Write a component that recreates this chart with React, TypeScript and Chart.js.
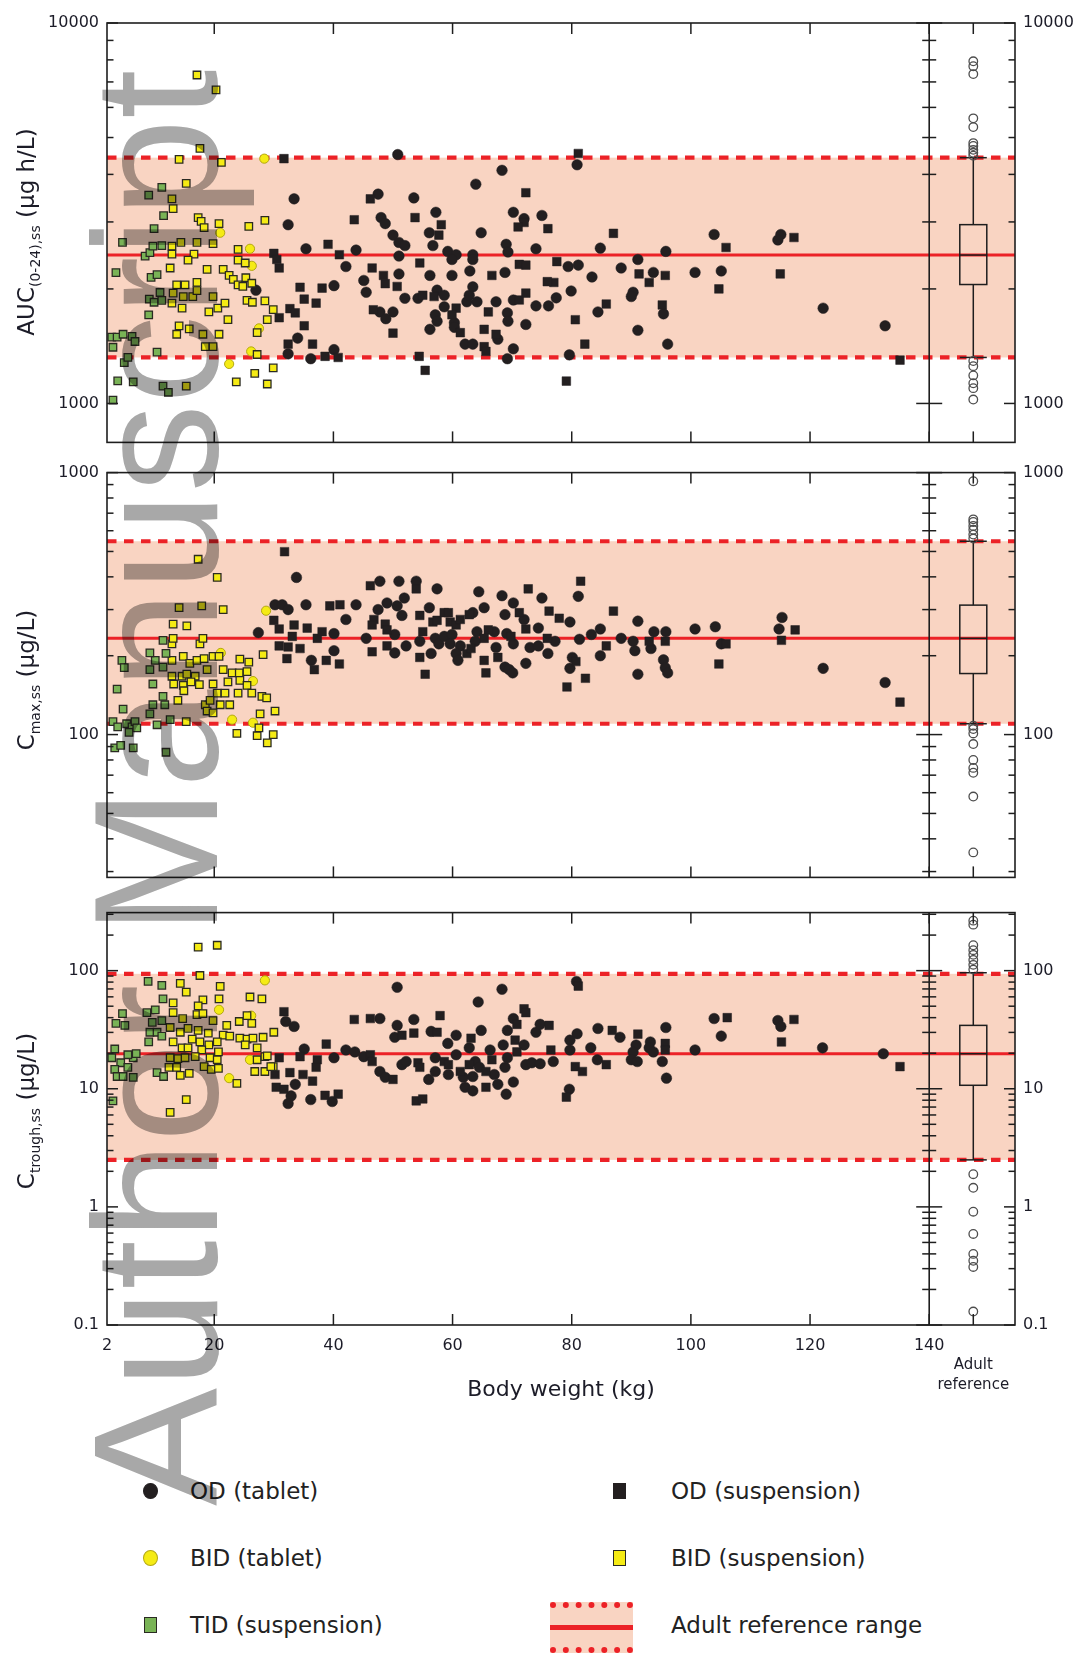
import React, { useEffect, useRef } from 'react';
import { Chart, registerables } from 'chart.js';

Chart.register(...registerables);

type Pt = [number, number];

// ---------- axes ----------
const X_MIN = 2;
const X_MAX = 154.4;
const X_DIVIDER = 140;
const BOX_X = 147.4;
const X_TICK_LABELS = [2, 20, 40, 60, 80, 100, 120, 140];
const X_MARKS = [20, 40, 60, 80, 100, 120, 140, BOX_X];
const X_TITLE = 'Body weight (kg)';
const BOX_LABEL = ['', 'Adult', 'reference'];

const AUC_RANGE = [790, 10000];
const AUC_TICKS = [1000, 2000, 3000, 4000, 5000, 6000, 7000, 8000, 9000, 10000];
const AUC_LABELS = [1000, 10000];
const CMAX_RANGE = [28.5, 1000];
const CMAX_TICKS = [30, 40, 50, 60, 70, 80, 90, 100, 200, 300, 400, 500, 600, 700, 800, 900, 1000];
const CMAX_LABELS = [100, 1000];
const CTR_RANGE = [0.1, 310];
const CTR_TICKS = [0.1, 0.2, 0.3, 0.4, 0.5, 0.6, 0.7, 0.8, 0.9, 1, 2, 3, 4, 5, 6, 7, 8, 9, 10, 20, 30, 40, 50, 60, 70, 80, 90, 100, 200, 300];
const CTR_LABELS = [0.1, 1, 10, 100];

// ---------- adult reference: [lower, median, upper] ----------
const AUC_REF = [1321, 2455, 4426];
const CMAX_REF = [110, 233, 547];
const CTR_REF = [2.5, 19.8, 94];

// ---------- adult box plots: [whiskerLo, q1, median, q3, whiskerHi] ----------
const AUC_BOX = [1321, 2054, 2455, 2951, 4426];
const CMAX_BOX = [110, 171, 233, 312, 547];
const CTR_BOX = [2.5, 10.7, 19.8, 34.4, 96];
const AUC_OUT = [7930, 7700, 7340, 5616, 5325, 4834, 4750, 4640, 4560, 4480, 1293, 1253, 1185, 1130, 1097, 1024];
const CMAX_OUT = [927, 663, 648, 626, 605, 580, 560, 108, 105, 101, 92, 80, 74.6, 71.5, 58, 35.5];
const CTR_OUT = [265, 245, 164, 149, 136, 123, 112, 102, 1.89, 1.45, 0.91, 0.59, 0.4, 0.35, 0.31, 0.13];

// ---------- AUC(0-24),ss ----------
const aucTid: Pt[] = [[3.0,1020],[3.8,1146],[6.4,1140],[4.9,1280],[5.5,1321],[3.0,1405],[2.8,1494],[3.7,1494],[4.7,1520],[6.2,1500],[6.7,1455],[10.4,1365],[11.4,1110],[12.3,1070],[3.5,2208],[4.6,2650],[9.0,1710],[8.4,2440],[9.2,2490],[9.7,2590],[11.2,2600],[9.4,2145],[10.4,2180],[9.1,1880],[9.9,1845],[11.2,1866],[10.9,1957],[9.9,2880],[11.5,3115],[9.0,3530],[11.2,3700]];
const aucBidSusp: Pt[] = [[17.1,7300],[20.3,6670],[14.1,4380],[21.2,4300],[15.3,3790],[17.3,3080],[17.8,3010],[18.3,2900],[20.8,2970],[25.8,2920],[28.5,3030],[14.4,2650],[17.1,2650],[19.8,2630],[12.9,2590],[12.9,2470],[16.6,2470],[24.0,2540],[15.6,2380],[24.0,2380],[25.2,2340],[12.6,2270],[18.8,2250],[21.5,2250],[22.5,2170],[23.2,2120],[25.3,2140],[13.7,2050],[15.1,2050],[17.1,2080],[24.0,2050],[24.8,2030],[26.3,2070],[13.1,1950],[14.8,1910],[16.4,1910],[17.1,1980],[12.9,1835],[14.6,1780],[19.8,1910],[19.1,1740],[20.6,1780],[21.8,1835],[25.5,1866],[26.4,1845],[28.5,1860],[29.9,1765],[22.3,1660],[28.9,1660],[14.1,1600],[13.7,1520],[15.8,1570],[20.8,1520],[27.2,1535],[18.1,1520],[18.5,1410],[19.8,1410],[27.2,1345],[26.8,1200],[29.9,1240],[23.7,1140],[28.9,1125],[12.9,3450],[17.6,4680],[15.3,1110],[13.1,3250]];
const aucBidTab: Pt[] = [[28.4,4400],[21.0,2810],[26.0,2550],[26.3,2300],[27.5,1575],[26.2,1370],[22.5,1270]];
const aucOdTab: Pt[] = [[50.8,4510],[80.9,4240],[68.3,4100],[63.9,3770],[33.4,3450],[47.5,3550],[53.5,3470],[32.4,2950],[48.0,3080],[48.7,2970],[57.2,3180],[70.2,3180],[72.0,3060],[75.0,3120],[64.8,2810],[56.1,2810],[50.0,2770],[51.0,2650],[52.0,2600],[56.7,2600],[103.9,2780],[115.1,2780],[114.6,2690],[84.8,2560],[95.8,2510],[74.0,2550],[69.0,2620],[69.3,2500],[35.4,2550],[43.8,2530],[51.0,2440],[59.2,2510],[60.6,2460],[59.9,2390],[63.4,2460],[63.4,2390],[42.1,2290],[51.0,2190],[56.2,2170],[59.9,2170],[62.9,2230],[68.8,2210],[79.4,2290],[81.1,2310],[83.4,2150],[88.3,2270],[91.1,2390],[93.7,2210],[100.7,2210],[105.1,2230],[122.2,1780],[132.6,1600],[40.1,2040],[34.0,1485],[32.4,1350],[36.2,1311],[40.1,1385],[45.1,2105],[45.5,1960],[47.8,1740],[50.0,1740],[48.8,1670],[52.0,1890],[54.2,1890],[56.2,1566],[57.4,1985],[58.6,1925],[57.1,1710],[57.4,1645],[58.6,1795],[60.3,1630],[60.3,1585],[62.1,1432],[62.4,1850],[62.8,1925],[63.4,2025],[64.1,1850],[63.4,1432],[67.3,1850],[67.6,1475],[69.2,1730],[69.3,1645],[70.2,1870],[70.2,1392],[69.2,1311],[72.3,1613],[74.0,1805],[76.1,1805],[77.4,1895],[79.9,1975],[79.6,1342],[84.4,1740],[90.3,1960],[90.0,1910],[91.1,1557],[95.4,1720],[96.1,1432],[27.0,1985]];
const aucOdSusp: Pt[] = [[31.7,4400],[81.1,4540],[72.3,3580],[46.2,3450],[43.5,3040],[53.7,3080],[58.1,2950],[72.0,2990],[76.0,2880],[71.0,2910],[57.7,2770],[87.0,2800],[117.3,2730],[105.9,2570],[39.1,2620],[41.0,2460],[30.0,2480],[30.5,2390],[30.9,2270],[54.5,2340],[46.5,2270],[66.6,2170],[71.2,2320],[72.3,2310],[77.5,2360],[91.3,2190],[95.7,2170],[93.0,2080],[115.0,2190],[104.7,2000],[135.1,1300],[34.4,2020],[38.1,2010],[35.1,1880],[37.1,1835],[32.7,1775],[33.6,1730],[30.9,1680],[35.1,1600],[32.4,1432],[36.5,1432],[38.6,1330],[40.8,1321],[48.7,2065],[50.7,2030],[48.4,2170],[46.7,1763],[50.0,1530],[55.0,1925],[54.4,1330],[55.4,1222],[56.9,1910],[60.6,1780],[59.9,1710],[61.3,1535],[65.3,1566],[65.3,1410],[65.6,1370],[66.0,1740],[67.3,1520],[71.2,1870],[72.3,1950],[77.0,2080],[75.9,2090],[80.6,1660],[82.2,1432],[79.1,1145],[85.8,1825],[95.2,1815]];

// ---------- Cmax,ss ----------
const cmaxTid: Pt[] = [[3.7,149],[4.5,192],[4.9,180],[4.7,125],[3.0,112],[3.8,107],[5.3,110],[6.2,107],[6.7,112],[5.7,102],[7.0,106],[3.3,89],[4.3,91],[6.4,89],[11.9,85.6],[10.4,109],[9.2,120],[9.7,130],[11.4,140],[11.7,130],[9.7,156],[9.2,177],[10.1,192],[9.2,205],[11.4,229],[11.9,204],[11.4,181],[12.6,114]];
const cmaxBidSusp: Pt[] = [[17.3,467],[20.5,398],[14.1,305],[17.9,310],[21.5,300],[13.1,264],[15.4,260],[12.9,222],[17.6,222],[13.1,233],[18.1,233],[12.9,192],[14.8,199],[15.9,187],[17.1,192],[18.3,195],[19.8,199],[20.8,199],[24.3,194],[25.8,189],[28.2,202],[18.8,177],[21.5,177],[23.0,172],[24.2,172],[25.5,174],[12.9,167],[14.6,167],[15.4,170],[16.8,167],[13.2,156],[14.8,154],[16.1,159],[17.5,155],[19.8,156],[22.3,159],[24.3,161],[25.5,154],[14.9,147],[20.5,144],[21.8,144],[24.0,144],[26.3,144],[13.9,135],[18.5,130],[21.0,130],[22.6,130],[28.0,140],[28.8,138],[18.8,123],[19.8,121],[27.7,120],[30.2,123],[15.3,112],[23.8,101],[27.5,106],[27.2,99],[29.9,100],[28.9,93],[19.3,135]];
const cmaxBidTab: Pt[] = [[28.7,297],[21.1,205],[26.5,160],[23.0,114],[26.5,111]];
const cmaxOdTab: Pt[] = [[33.8,398],[27.4,245],[30.2,313],[31.4,313],[32.4,300],[35.4,313],[36.3,192],[40.1,243],[40.1,209],[42.1,275],[43.8,313],[47.8,385],[51.0,385],[53.9,385],[57.4,360],[49.0,318],[47.5,300],[51.5,285],[50.7,310],[51.9,332],[50.3,241],[50.3,205],[45.5,233],[52.2,218],[54.5,227],[56.1,305],[57.1,233],[57.7,222],[56.4,204],[58.6,237],[59.9,241],[59.6,222],[61.3,218],[60.6,204],[60.9,192],[63.4,292],[64.4,351],[65.3,305],[64.1,247],[63.8,227],[67.0,247],[67.3,215],[68.3,339],[68.8,287],[69.1,243],[70.2,222],[68.8,181],[69.5,177],[70.1,172],[70.2,318],[72.0,275],[72.3,187],[73.0,215],[74.4,218],[74.4,255],[75.0,332],[77.2,227],[76.0,204],[79.7,269],[80.1,197],[79.7,179],[81.1,337],[81.3,231],[83.3,241],[84.8,253],[84.8,200],[88.3,233],[90.3,227],[90.6,209],[91.1,271],[91.1,170],[93.3,213],[93.8,247],[95.8,247],[95.4,193],[95.7,180],[96.1,172],[100.7,253],[104.1,258],[105.1,222],[115.3,280],[114.8,253],[122.2,179],[132.6,158]];
const cmaxOdSusp: Pt[] = [[31.8,499],[30.0,273],[30.9,253],[33.4,262],[35.6,255],[33.1,237],[30.9,218],[32.4,216],[34.4,213],[32.2,195],[36.8,177],[37.3,233],[38.1,247],[38.8,192],[39.4,310],[41.1,313],[41.0,186],[46.2,370],[53.9,360],[46.8,275],[46.5,262],[48.7,264],[49.0,251],[49.0,218],[46.5,207],[54.5,285],[55.0,247],[54.5,197],[55.4,170],[56.7,269],[57.4,273],[58.6,292],[59.3,292],[59.6,269],[60.6,262],[61.3,275],[62.4,204],[62.8,287],[63.1,213],[66.0,251],[65.3,233],[65.3,192],[65.6,172],[67.6,197],[69.8,237],[71.2,292],[72.3,253],[72.7,360],[75.9,233],[76.2,296],[77.9,278],[80.7,190],[81.5,385],[79.2,152],[82.3,164],[85.8,218],[87.0,296],[93.0,227],[95.7,227],[105.9,222],[104.7,186],[117.5,251],[115.2,229],[135.1,133]];

// ---------- Ctrough,ss ----------
const ctrTid: Pt[] = [[3.0,7.9],[3.3,21.7],[2.8,18.3],[4.3,16.6],[3.3,14.6],[3.7,12.7],[4.7,12.7],[5.5,15.2],[6.4,18.3],[6.9,19.8],[5.5,19.4],[6.4,12.5],[3.5,35.8],[5.0,34.4],[4.6,43.3],[8.7,44.1],[8.9,81.1],[11.2,75.1],[10.1,46.6],[11.4,57.6],[9.6,36.5],[11.2,37.8],[9.2,30.1],[10.4,30.1],[11.2,27.9],[9.0,24.9],[10.4,13.7],[11.5,12.7]];
const ctrBidSusp: Pt[] = [[17.3,158],[20.5,164],[17.6,91],[14.3,78],[15.3,65.7],[21.0,73.7],[20.8,57.6],[26.0,59.8],[28.0,57.6],[18.1,56.5],[17.3,50.3],[13.1,53.3],[13.1,44.1],[14.7,39.3],[17.1,42.4],[18.1,43.3],[19.8,37.8],[22.1,34.4],[24.2,37.1],[25.5,41.6],[26.3,35.8],[12.6,33.0],[14.3,30.1],[15.6,32.4],[17.3,31.2],[19.0,29.6],[21.5,28.4],[22.6,27.9],[24.3,26.8],[25.5,26.3],[26.5,26.8],[28.2,27.3],[13.1,24.9],[16.3,26.3],[17.6,24.9],[19.1,23.5],[20.5,24.9],[14.6,22.2],[15.6,22.2],[17.9,21.3],[20.7,20.5],[25.2,23.5],[27.2,22.2],[12.6,18.3],[13.9,18.0],[15.1,18.3],[16.8,18.7],[19.3,18.3],[20.5,17.6],[27.2,17.6],[28.5,18.7],[18.3,15.4],[14.3,13.0],[15.8,13.5],[19.5,14.6],[20.7,14.9],[26.8,14.0],[28.5,14.0],[29.9,15.4],[23.8,11.1],[15.3,8.1],[12.6,6.3],[12.4,15.2],[13.7,15.2],[30.0,30.1],[28.9,19.0],[29.5,15.4]];
const ctrBidTab: Pt[] = [[28.5,82.7],[20.8,46.6],[26.2,41.6],[26.0,17.6],[22.5,12.3]];
const ctrOdTab: Pt[] = [[50.7,72.3],[68.3,69.6],[80.8,81],[64.3,54.3],[32.0,37.1],[33.4,33.7],[47.8,39.3],[53.5,38.6],[103.9,39.3],[114.6,37.8],[115.1,33.7],[50.7,34.4],[50.3,27.3],[56.4,30.6],[60.6,28.4],[59.2,24.2],[64.8,31.2],[69.2,31.2],[72.0,23.5],[70.2,39.3],[74.0,30.1],[74.7,35.1],[79.7,25.8],[80.9,29.2],[84.4,32.4],[88.1,27.3],[93.2,24.9],[95.8,33.0],[90.8,23.5],[90.3,20.5],[83.2,22.2],[79.7,21.3],[100.7,21.3],[105.1,27.9],[122.1,22.2],[132.3,19.8],[35.1,21.7],[42.1,21.3],[43.6,20.5],[40.1,18.3],[33.6,10.9],[32.9,8.7],[32.4,7.5],[36.2,8.1],[39.8,7.8],[45.1,18.7],[47.8,14.0],[48.7,12.5],[51.5,16.0],[52.2,17.0],[56.0,12.0],[57.1,18.3],[60.6,19.4],[61.8,12.5],[62.1,10.3],[63.4,9.6],[63.8,17.0],[64.5,15.2],[66.3,21.3],[67.6,10.9],[69.0,9.0],[70.2,11.4],[68.8,15.2],[69.2,18.3],[72.3,16.0],[73.3,16.6],[74.7,16.3],[76.9,17.0],[79.6,9.9],[84.3,17.6],[90.0,17.6],[91.0,17.0],[95.2,17.0],[95.9,12.3],[93.0,22.2],[93.7,20.5],[57.1,14.0],[59.3,13.2],[63.4,12.7],[67.0,13.2],[62.8,22.2],[68.5,23.5]];
const ctrOdSusp: Pt[] = [[81.1,74],[31.7,44.9],[43.5,38.6],[46.2,39.3],[57.9,41.6],[72.0,47.5],[72.3,44.1],[106.1,40.0],[117.3,38.6],[70.8,35.1],[53.5,29.6],[57.4,30.1],[63.1,26.8],[70.5,25.8],[76.2,34.4],[86.8,31.2],[91.1,29.0],[95.7,24.2],[95.7,21.3],[76.5,21.3],[115.2,24.9],[135.1,15.4],[38.8,23.9],[37.3,17.6],[37.1,15.2],[34.4,18.7],[30.9,18.3],[30.2,13.2],[32.7,13.7],[34.9,13.2],[36.5,11.6],[30.4,10.3],[31.7,9.9],[38.6,8.8],[40.8,9.0],[46.2,19.4],[46.5,17.0],[50.0,12.0],[54.2,16.6],[54.5,15.2],[53.9,7.9],[55.0,8.2],[58.6,17.0],[59.3,16.0],[61.3,14.0],[62.8,16.0],[65.6,14.0],[65.6,10.3],[66.6,17.6],[70.8,20.5],[80.6,15.4],[81.8,14.0],[79.1,8.5],[85.8,16.0],[51.5,28.4]];

const LEGEND_LABELS = ['OD (tablet)', 'OD (suspension)', 'BID (tablet)', 'BID (suspension)', 'TID (suspension)', 'Adult reference range'];

// ---------- styles ----------
const FONT = "'DejaVu Sans', 'Liberation Sans', sans-serif";
const TEXT = '#1c1c28';
const BLACK = '#231f20';
const YELLOW = '#f5eb14';
const YELLOW_EDGE = '#b3a812';
const GREEN = '#79b356';
const EDGE = '#2a2a22';
const PINK = '#f9d4c2';
const RED = '#ec2227';
const FRAME = '#1e1e1e';

function toXY(p: Pt[]) {
  return p.map(([x, y]) => ({ x, y }));
}

function seg(ctx: CanvasRenderingContext2D, x1: number, y1: number, x2: number, y2: number) {
  ctx.beginPath();
  ctx.moveTo(x1, y1);
  ctx.lineTo(x2, y2);
  ctx.stroke();
}

function decorPlugin(ref: number[], box: number[], decades: number[]) {
  return {
    id: 'decor',
    beforeDatasetsDraw(chart: any) {
      const { ctx, chartArea: a } = chart;
      const xs = chart.scales.x;
      const ys = chart.scales.y;
      const yL = ys.getPixelForValue(ref[0]);
      const yM = ys.getPixelForValue(ref[1]);
      const yU = ys.getPixelForValue(ref[2]);
      ctx.save();
      ctx.fillStyle = PINK;
      ctx.fillRect(a.left, yU, a.right - a.left, yL - yU);
      ctx.strokeStyle = RED;
      ctx.lineWidth = 3;
      seg(ctx, a.left, yM, a.right, yM);
      ctx.lineWidth = 4.2;
      ctx.setLineDash([9.5, 7.5]);
      seg(ctx, a.left, yU, a.right, yU);
      seg(ctx, a.left, yL, a.right, yL);
      ctx.setLineDash([]);
      // adult box plot
      const cx = xs.getPixelForValue(BOX_X);
      const hw = 13.5;
      const [wLo, q1, q2, q3, wHi] = box.map((v) => ys.getPixelForValue(v));
      ctx.strokeStyle = FRAME;
      ctx.lineWidth = 1.5;
      ctx.strokeRect(cx - hw, q3, 2 * hw, q1 - q3);
      seg(ctx, cx - hw, q2, cx + hw, q2);
      seg(ctx, cx, q3, cx, wHi);
      seg(ctx, cx, q1, cx, wLo);
      seg(ctx, cx - hw, wHi, cx + hw, wHi);
      seg(ctx, cx - hw, wLo, cx + hw, wLo);
      ctx.restore();
    },
    afterDatasetsDraw(chart: any) {
      const { ctx, chartArea: a } = chart;
      const xs = chart.scales.x;
      const ys = chart.scales.y;
      ctx.save();
      ctx.strokeStyle = FRAME;
      ctx.lineWidth = 1.6;
      ctx.strokeRect(a.left, a.top, a.right - a.left, a.bottom - a.top);
      const xd = xs.getPixelForValue(X_DIVIDER);
      seg(ctx, xd, a.top, xd, a.bottom);
      ctx.lineWidth = 1.5;
      for (const v of X_MARKS) {
        const px = xs.getPixelForValue(v);
        seg(ctx, px, a.top, px, a.top + 11);
        seg(ctx, px, a.bottom, px, a.bottom - 11);
      }
      for (const t of ys.ticks) {
        const py = ys.getPixelForValue(t.value);
        const major = decades.includes(t.value);
        const l = major ? 11 : 6.5;
        const d = major ? 13 : 7;
        seg(ctx, a.left, py, a.left + l, py);
        seg(ctx, xd - d, py, xd + d, py);
        seg(ctx, a.right - l, py, a.right, py);
      }
      ctx.restore();
    },
  };
}

type Panel = {
  tid: Pt[]; bidSusp: Pt[]; bidTab: Pt[]; odSusp: Pt[]; odTab: Pt[];
  out: number[]; box: number[]; ref: number[];
  range: number[]; ticks: number[]; labels: number[];
  padTop: number; padBottom: number; showX: boolean;
};

function yAxis(p: Panel, position: string, width: number) {
  return {
    type: 'logarithmic',
    position,
    min: p.range[0],
    max: p.range[1],
    afterFit: (s: any) => { s.width = width; },
    afterBuildTicks: (s: any) => { s.ticks = p.ticks.map((v) => ({ value: v })); },
    grid: { display: false, drawTicks: false },
    border: { display: false },
    ticks: {
      autoSkip: false,
      padding: 8,
      color: TEXT,
      font: { family: FONT, size: 16 },
      callback: (v: number) => (p.labels.includes(v) ? String(v) : ''),
    },
  };
}

function makeConfig(p: Panel): any {
  const sq = (data: Pt[], bg: string) => ({
    data: toXY(data), pointStyle: 'rect', pointRadius: 5.3, backgroundColor: bg, borderColor: EDGE, borderWidth: 1.3,
  });
  return {
    type: 'scatter',
    data: {
      datasets: [
        sq(p.tid, GREEN),
        sq(p.bidSusp, YELLOW),
        { data: toXY(p.bidTab), pointStyle: 'circle', pointRadius: 4.6, backgroundColor: YELLOW, borderColor: YELLOW_EDGE, borderWidth: 1 },
        { data: toXY(p.odSusp), pointStyle: 'rect', pointRadius: 6.1, backgroundColor: BLACK, borderColor: BLACK, borderWidth: 0.5 },
        { data: toXY(p.odTab), pointStyle: 'circle', pointRadius: 5.3, backgroundColor: BLACK, borderColor: BLACK, borderWidth: 0.5 },
        { data: p.out.map((v) => ({ x: BOX_X, y: v })), pointStyle: 'circle', pointRadius: 4.3, backgroundColor: 'rgba(0,0,0,0)', borderColor: '#4d4d4d', borderWidth: 1.3 },
      ],
    },
    options: {
      responsive: false,
      animation: false,
      devicePixelRatio: 1,
      events: [],
      layout: { padding: { top: p.padTop, bottom: p.padBottom, left: 0, right: 0 } },
      plugins: { legend: { display: false }, tooltip: { enabled: false } },
      scales: {
        x: {
          type: 'linear',
          min: X_MIN,
          max: X_MAX,
          display: p.showX,
          afterFit: (s: any) => { if (p.showX) s.height = 85; },
          afterBuildTicks: (s: any) => { s.ticks = [...X_TICK_LABELS, BOX_X].map((v) => ({ value: v })); },
          grid: { display: false, drawTicks: false },
          border: { display: false },
          ticks: {
            autoSkip: false,
            maxRotation: 0,
            minRotation: 0,
            padding: 11,
            color: TEXT,
            font: (c: any) => (c.tick && c.tick.value === BOX_X
              ? { family: FONT, size: 15, lineHeight: 1.3 }
              : { family: FONT, size: 16, lineHeight: 1.2 }),
            callback: (v: number) => (v === BOX_X ? BOX_LABEL : String(v)),
          },
          title: {
            display: p.showX,
            text: X_TITLE,
            color: TEXT,
            font: { family: FONT, size: 22, lineHeight: 1.2 },
            padding: { top: 0, bottom: 7 },
          },
        },
        y: yAxis(p, 'left', 107),
        y2: yAxis(p, 'right', 61),
      },
    },
    plugins: [decorPlugin(p.ref, p.box, p.labels)],
  };
}

const PANELS: Panel[] = [
  { tid: aucTid, bidSusp: aucBidSusp, bidTab: aucBidTab, odSusp: aucOdSusp, odTab: aucOdTab, out: AUC_OUT, box: AUC_BOX, ref: AUC_REF, range: AUC_RANGE, ticks: AUC_TICKS, labels: AUC_LABELS, padTop: 23, padBottom: 11, showX: false },
  { tid: cmaxTid, bidSusp: cmaxBidSusp, bidTab: cmaxBidTab, odSusp: cmaxOdSusp, odTab: cmaxOdTab, out: CMAX_OUT, box: CMAX_BOX, ref: CMAX_REF, range: CMAX_RANGE, ticks: CMAX_TICKS, labels: CMAX_LABELS, padTop: 8, padBottom: 7, showX: false },
  { tid: ctrTid, bidSusp: ctrBidSusp, bidTab: ctrBidTab, odSusp: ctrOdSusp, odTab: ctrOdTab, out: CTR_OUT, box: CTR_BOX, ref: CTR_REF, range: CTR_RANGE, ticks: CTR_TICKS, labels: CTR_LABELS, padTop: 9, padBottom: 5, showX: true },
];
const CANVAS_BOXES = [[0, 460], [455, 440], [895, 520]];

const yTitleStyle = (x: number, y: number): React.CSSProperties => ({
  position: 'absolute', left: x, top: y, transform: 'translate(-50%, -50%) rotate(-90deg)',
  fontFamily: FONT, fontSize: 23, color: TEXT, whiteSpace: 'nowrap', lineHeight: 1.2,
});
const subStyle: React.CSSProperties = { fontSize: 14, verticalAlign: '-6px', lineHeight: 0 };

const legendText = (x: number, y: number): React.CSSProperties => ({
  position: 'absolute', left: x, top: y - 15, height: 30, lineHeight: '30px',
  fontFamily: FONT, fontSize: 23, color: '#222', whiteSpace: 'nowrap',
});
const marker = (x: number, y: number, w: number, h: number, bg: string, border: string, round: boolean): React.CSSProperties => ({
  position: 'absolute', left: x - w / 2, top: y - h / 2, width: w, height: h, boxSizing: 'border-box',
  background: bg, border: `1.5px solid ${border}`, borderRadius: round ? '50%' : 0,
});

export default function App() {
  const r1 = useRef<HTMLCanvasElement>(null);
  const r2 = useRef<HTMLCanvasElement>(null);
  const r3 = useRef<HTMLCanvasElement>(null);

  useEffect(() => {
    const refs = [r1, r2, r3];
    const charts = PANELS.map((p, i) => new Chart(refs[i].current as HTMLCanvasElement, makeConfig(p)));
    return () => charts.forEach((c) => c.destroy());
  }, []);

  const refs = [r1, r2, r3];
  return (
    <div style={{ position: 'absolute', left: 0, top: 0, width: 1076, height: 1657, background: '#fff', overflow: 'hidden' }}>
      {CANVAS_BOXES.map(([top, h], i) => (
        <canvas key={i} ref={refs[i]} width={1076} height={h} style={{ position: 'absolute', left: 0, top, width: 1076, height: h }} />
      ))}

      <div style={yTitleStyle(27, 232)}>AUC<sub style={subStyle}>(0-24),ss</sub> (μg h/L)</div>
      <div style={yTitleStyle(27, 680)}>C<sub style={subStyle}>max,ss</sub> (μg/L)</div>
      <div style={yTitleStyle(27, 1111)}>C<sub style={subStyle}>trough,ss</sub> (μg/L)</div>

      {/* legend */}
      <div style={marker(150, 1491, 15, 16, BLACK, BLACK, true)} />
      <div style={legendText(190, 1491)}>{LEGEND_LABELS[0]}</div>
      <div style={marker(619, 1491, 13, 16, BLACK, BLACK, false)} />
      <div style={legendText(671, 1491)}>{LEGEND_LABELS[1]}</div>
      <div style={marker(150, 1558, 15, 16, YELLOW, YELLOW_EDGE, true)} />
      <div style={legendText(190, 1558)}>{LEGEND_LABELS[2]}</div>
      <div style={marker(619, 1558, 13, 16, YELLOW, EDGE, false)} />
      <div style={legendText(671, 1558)}>{LEGEND_LABELS[3]}</div>
      <div style={marker(150, 1625, 13, 16, GREEN, EDGE, false)} />
      <div style={legendText(190, 1625)}>{LEGEND_LABELS[4]}</div>
      <div style={{ position: 'absolute', left: 550, top: 1602, width: 83, height: 51, boxSizing: 'border-box', background: PINK, borderTop: `6px dotted ${RED}`, borderBottom: `6px dotted ${RED}` }}>
        <div style={{ position: 'absolute', left: 0, right: 0, top: 17, height: 5, background: RED }} />
      </div>
      <div style={legendText(671, 1625)}>{LEGEND_LABELS[5]}</div>

      {/* watermark */}
      <div style={{
        position: 'absolute', left: 68, top: 1506, transformOrigin: '0 0', transform: 'rotate(-90deg)',
        fontFamily: "'Liberation Sans', Arial, sans-serif", fontSize: 177, lineHeight: 1, color: '#a8a8a8',
        whiteSpace: 'nowrap', mixBlendMode: 'multiply', pointerEvents: 'none',
      }}>Author Manuscript</div>
    </div>
  );
}
